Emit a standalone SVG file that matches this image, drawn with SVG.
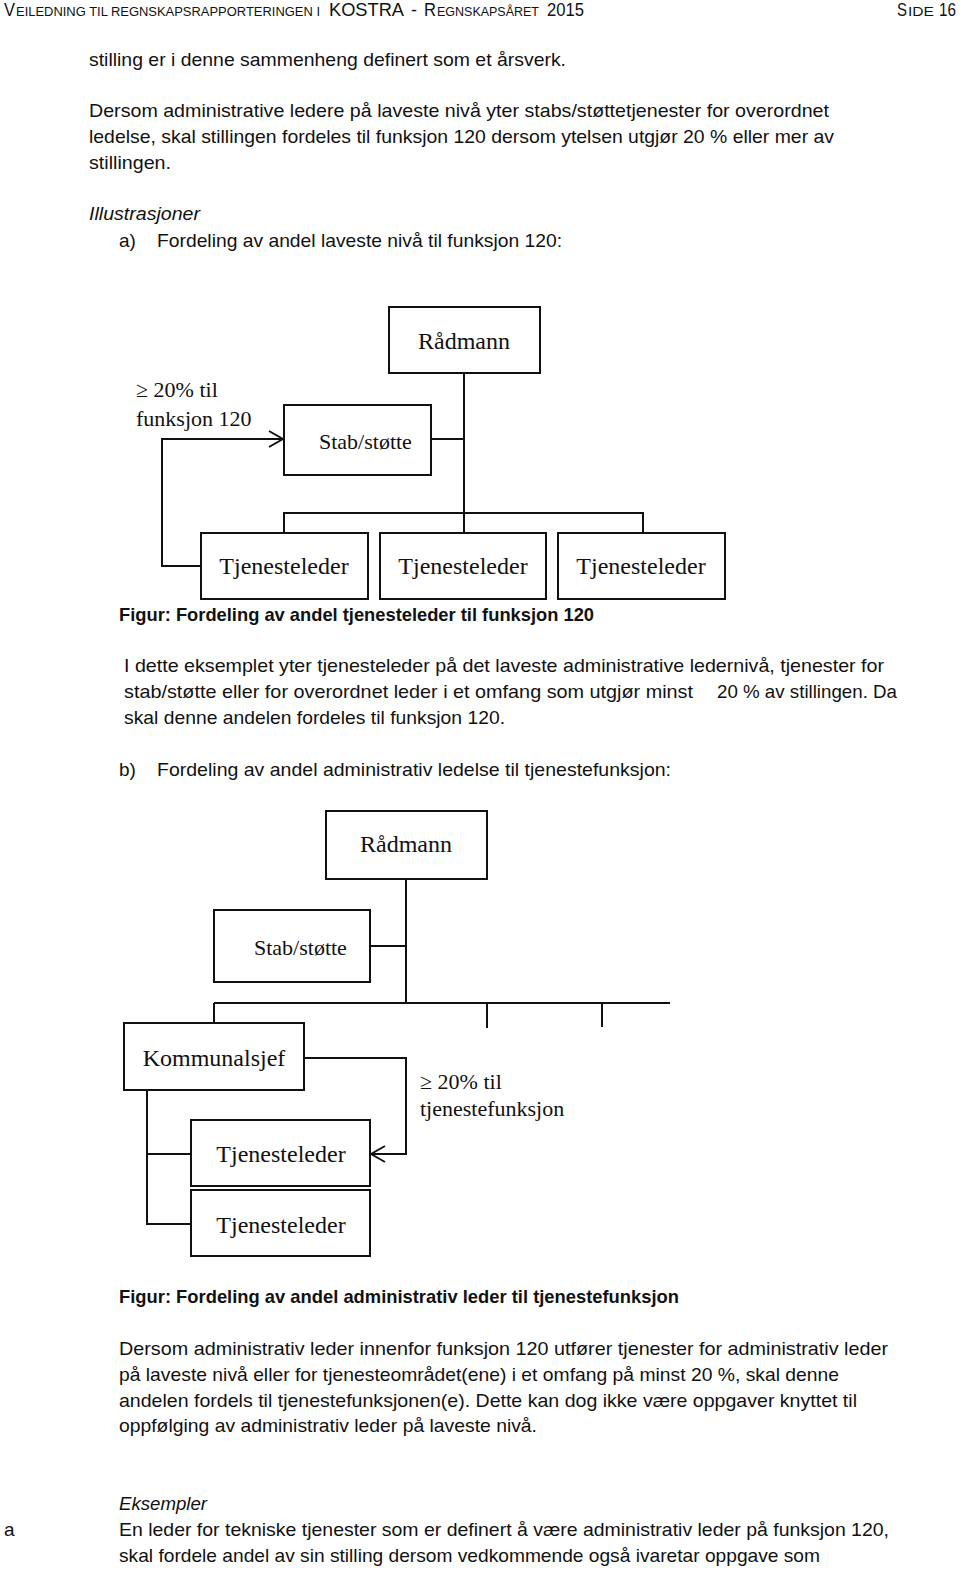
<svg xmlns="http://www.w3.org/2000/svg" width="960" height="1572" viewBox="0 0 960 1572">
<style>
.p{font-family:"Liberation Sans",Arial,sans-serif;font-size:19px;fill:#111}
.i{font-style:italic}
.b{font-weight:bold}
.h{font-family:"Liberation Sans",Arial,sans-serif;fill:#111}
.big{font-size:18px}
.sm{font-size:12.5px}
.box{fill:#fff;stroke:#111;stroke-width:2}
.t{font-family:"Liberation Serif","Times New Roman",serif;font-size:24px;fill:#111;text-anchor:middle}
.s{font-family:"Liberation Serif","Times New Roman",serif;font-size:22px;fill:#111}
.c{fill:none;stroke:#111;stroke-width:2}
</style>
<defs>
<marker id="arr" markerUnits="userSpaceOnUse" viewBox="0 0 16 18" refX="15" refY="9" markerWidth="16" markerHeight="18" orient="auto">
<path d="M1,1 L15,9 L1,17" fill="none" stroke="#111" stroke-width="2"/>
</marker>
</defs>
<rect width="960" height="1572" fill="#fff"/>

<!-- header -->
<g id="header">
<text class="h big" x="4" y="16" textLength="11" lengthAdjust="spacingAndGlyphs">V</text>
<text class="h sm" x="16" y="16" textLength="304" lengthAdjust="spacingAndGlyphs">EILEDNING TIL REGNSKAPSRAPPORTERINGEN I</text>
<text class="h big" x="329" y="16" textLength="75" lengthAdjust="spacingAndGlyphs">KOSTRA</text>
<text class="h big" x="411" y="16">-</text>
<text class="h big" x="424" y="16" textLength="12" lengthAdjust="spacingAndGlyphs">R</text>
<text class="h sm" x="437" y="16" textLength="102" lengthAdjust="spacingAndGlyphs">EGNSKAPSÅRET</text>
<text class="h big" x="547" y="16" textLength="37" lengthAdjust="spacingAndGlyphs">2015</text>
<text class="h big" x="897" y="16" textLength="10" lengthAdjust="spacingAndGlyphs">S</text>
<text class="h sm" x="908" y="16" textLength="26" lengthAdjust="spacingAndGlyphs">IDE</text>
<text class="h big" x="939" y="16" textLength="17" lengthAdjust="spacingAndGlyphs">16</text>
</g>

<!-- body text -->
<text class="p" x="89" y="66" textLength="477" lengthAdjust="spacingAndGlyphs">stilling er i denne sammenheng definert som et årsverk.</text>
<text class="p" x="89" y="117" textLength="740" lengthAdjust="spacingAndGlyphs">Dersom administrative ledere på laveste nivå yter stabs/støttetjenester for overordnet</text>
<text class="p" x="89" y="143" textLength="745" lengthAdjust="spacingAndGlyphs">ledelse, skal  stillingen fordeles til funksjon 120 dersom ytelsen utgjør 20 % eller mer av</text>
<text class="p" x="89" y="169" textLength="82" lengthAdjust="spacingAndGlyphs">stillingen.</text>
<text class="p i" x="89" y="220" textLength="111" lengthAdjust="spacingAndGlyphs">Illustrasjoner</text>
<text class="p" x="119" y="247">a)</text>
<text class="p" x="157" y="247" textLength="405" lengthAdjust="spacingAndGlyphs">Fordeling av andel laveste nivå til funksjon 120:</text>

<!-- diagram a -->
<g id="connectors-a">
<line class="c" x1="464" y1="373" x2="464" y2="533"/>
<line class="c" x1="431" y1="439" x2="464" y2="439"/>
<polyline class="c" points="284,533 284,513 643,513 643,533"/>
<path class="c" d="M201,566 H162 V439 H283" marker-end="url(#arr)"/>
</g>
<g id="a-radmann"><rect class="box" x="389" y="307" width="151" height="66"/><text class="t" x="464" y="349">Rådmann</text></g>
<g id="a-stab"><rect class="box" x="284" y="405" width="147" height="70"/><text class="s" x="319" y="449">Stab/støtte</text></g>
<g id="a-tj1"><rect class="box" x="201" y="533" width="167" height="66"/><text class="t" x="284" y="574">Tjenesteleder</text></g>
<g id="a-tj2"><rect class="box" x="380" y="533" width="166" height="66"/><text class="t" x="463" y="574">Tjenesteleder</text></g>
<g id="a-tj3"><rect class="box" x="558" y="533" width="167" height="66"/><text class="t" x="641" y="574">Tjenesteleder</text></g>
<g id="a-label"><text class="s" x="136" y="397">≥ 20% til</text><text class="s" x="136" y="426">funksjon 120</text></g>

<text class="p b" x="119" y="621" textLength="475" lengthAdjust="spacingAndGlyphs">Figur: Fordeling av andel tjenesteleder til funksjon 120</text>
<text class="p" x="124" y="672" textLength="760" lengthAdjust="spacingAndGlyphs">I dette eksemplet yter tjenesteleder på det laveste administrative ledernivå, tjenester for</text>
<text class="p" x="124" y="698" textLength="569" lengthAdjust="spacingAndGlyphs">stab/støtte eller for overordnet leder i et omfang som utgjør minst</text>
<text class="p" x="717" y="698" textLength="180" lengthAdjust="spacingAndGlyphs">20 % av stillingen. Da</text>
<text class="p" x="124" y="724" textLength="381" lengthAdjust="spacingAndGlyphs">skal denne andelen fordeles til funksjon 120.</text>
<text class="p" x="119" y="776">b)</text>
<text class="p" x="157" y="776" textLength="514" lengthAdjust="spacingAndGlyphs">Fordeling av andel administrativ ledelse til tjenestefunksjon:</text>

<!-- diagram b -->
<g id="connectors-b">
<line class="c" x1="406" y1="879" x2="406" y2="1003"/>
<line class="c" x1="370" y1="946" x2="406" y2="946"/>
<line class="c" x1="214" y1="1003" x2="670" y2="1003"/>
<line class="c" x1="214" y1="1003" x2="214" y2="1023"/>
<line class="c" x1="487" y1="1003" x2="487" y2="1028"/>
<line class="c" x1="602" y1="1003" x2="602" y2="1027"/>
<polyline class="c" points="147,1090 147,1224 191,1224"/>
<line class="c" x1="147" y1="1154" x2="191" y2="1154"/>
<path class="c" d="M304,1058 H406 V1154 H371" marker-end="url(#arr)"/>
</g>
<g id="b-radmann"><rect class="box" x="326" y="811" width="161" height="68"/><text class="t" x="406" y="852">Rådmann</text></g>
<g id="b-stab"><rect class="box" x="214" y="910" width="156" height="72"/><text class="s" x="254" y="955">Stab/støtte</text></g>
<g id="b-kommunalsjef"><rect class="box" x="124" y="1023" width="180" height="67"/><text class="t" x="214" y="1066">Kommunalsjef</text></g>
<g id="b-tj1"><rect class="box" x="191" y="1120" width="179" height="66"/><text class="t" x="281" y="1162">Tjenesteleder</text></g>
<g id="b-tj2"><rect class="box" x="191" y="1190" width="179" height="66"/><text class="t" x="281" y="1233">Tjenesteleder</text></g>
<g id="b-label"><text class="s" x="420" y="1089">≥ 20% til</text><text class="s" x="420" y="1116">tjenestefunksjon</text></g>

<text class="p b" x="119" y="1303" textLength="560" lengthAdjust="spacingAndGlyphs">Figur: Fordeling av andel administrativ leder til tjenestefunksjon</text>
<text class="p" x="119" y="1355" textLength="769" lengthAdjust="spacingAndGlyphs">Dersom administrativ leder innenfor funksjon 120 utfører tjenester for administrativ leder</text>
<text class="p" x="119" y="1381" textLength="720" lengthAdjust="spacingAndGlyphs">på laveste nivå eller for tjenesteområdet(ene) i et omfang på minst 20 %, skal denne</text>
<text class="p" x="119" y="1407" textLength="738" lengthAdjust="spacingAndGlyphs">andelen fordels til tjenestefunksjonen(e). Dette kan dog ikke være oppgaver knyttet til</text>
<text class="p" x="119" y="1432" textLength="418" lengthAdjust="spacingAndGlyphs">oppfølging av administrativ leder på laveste nivå.</text>
<text class="p i" x="119" y="1510" textLength="88" lengthAdjust="spacingAndGlyphs">Eksempler</text>
<text class="p" x="4" y="1536">a</text>
<text class="p" x="119" y="1536" textLength="770" lengthAdjust="spacingAndGlyphs">En leder for tekniske tjenester som er definert å være administrativ leder på funksjon 120,</text>
<text class="p" x="119" y="1562" textLength="701" lengthAdjust="spacingAndGlyphs">skal fordele andel av sin stilling dersom vedkommende også ivaretar oppgave som</text>
</svg>
